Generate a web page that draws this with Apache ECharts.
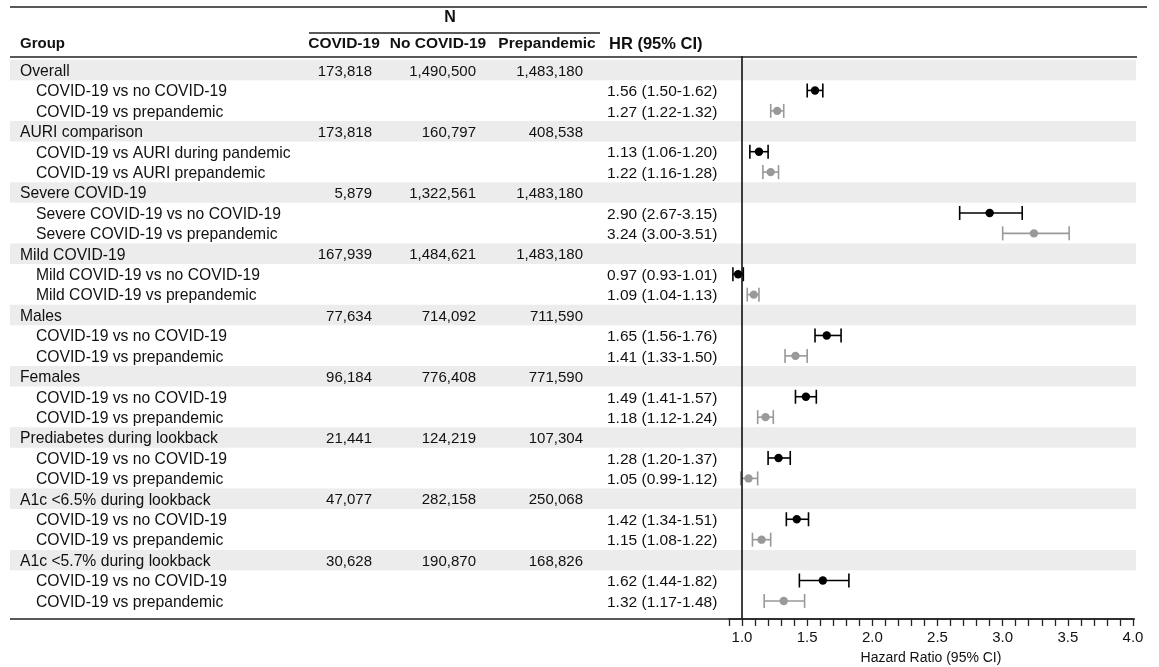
<!DOCTYPE html>
<html>
<head>
<meta charset="utf-8">
<script src="https://cdn.jsdelivr.net/npm/echarts@6/dist/echarts.min.js"></script>
<style>
  html, body { margin: 0; padding: 0; background: #fff; }
  #chart { width: 1159px; height: 667px; }
</style>
</head>
<body>
<div id="chart"></div>
<script>
// groups and N counts
const groups = ['Overall', 'AURI comparison', 'Severe COVID-19', 'Mild COVID-19', 'Males', 'Females',
  'Prediabetes during lookback', 'A1c <6.5% during lookback', 'A1c <5.7% during lookback'];
const nCovid = [173818, 173818, 5879, 167939, 77634, 96184, 21441, 47077, 30628];
const nNoCovid = [1490500, 160797, 1322561, 1484621, 714092, 776408, 124219, 282158, 190870];
const nPrepandemic = [1483180, 408538, 1483180, 1483180, 711590, 771590, 107304, 250068, 168826];

// comparison labels
const labelVsNoCovid = ['COVID-19 vs no COVID-19', 'COVID-19 vs AURI during pandemic', 'Severe COVID-19 vs no COVID-19',
  'Mild COVID-19 vs no COVID-19', 'COVID-19 vs no COVID-19', 'COVID-19 vs no COVID-19', 'COVID-19 vs no COVID-19',
  'COVID-19 vs no COVID-19', 'COVID-19 vs no COVID-19'];
const labelVsPre = ['COVID-19 vs prepandemic', 'COVID-19 vs AURI prepandemic', 'Severe COVID-19 vs prepandemic',
  'Mild COVID-19 vs prepandemic', 'COVID-19 vs prepandemic', 'COVID-19 vs prepandemic', 'COVID-19 vs prepandemic',
  'COVID-19 vs prepandemic', 'COVID-19 vs prepandemic'];

// hazard ratios
const hrNoCovid = [1.56, 1.13, 2.90, 0.97, 1.65, 1.49, 1.28, 1.42, 1.62];
const loNoCovid = [1.50, 1.06, 2.67, 0.93, 1.56, 1.41, 1.20, 1.34, 1.44];
const hiNoCovid = [1.62, 1.20, 3.15, 1.01, 1.76, 1.57, 1.37, 1.51, 1.82];
const hrPre = [1.27, 1.22, 3.24, 1.09, 1.41, 1.18, 1.05, 1.15, 1.32];
const loPre = [1.22, 1.16, 3.00, 1.04, 1.33, 1.12, 0.99, 1.08, 1.17];
const hiPre = [1.32, 1.28, 3.51, 1.13, 1.50, 1.24, 1.12, 1.22, 1.48];

const FONT = 'Arial, "Liberation Sans", Helvetica, sans-serif';
const TXT = '#111';
const fmtN = v => v.toLocaleString('en-US');
const fmtHR = (h, l, u) => h.toFixed(2) + ' (' + l.toFixed(2) + '-' + u.toFixed(2) + ')';

// table rows
const rows = [];
const points = [];
groups.forEach((g, i) => {
  rows.push({ y: 3 * i, kind: 'group', label: g, n: [nCovid[i], nNoCovid[i], nPrepandemic[i]] });
  rows.push({ y: 3 * i + 1, kind: 'sub', label: labelVsNoCovid[i], hr: fmtHR(hrNoCovid[i], loNoCovid[i], hiNoCovid[i]) });
  rows.push({ y: 3 * i + 2, kind: 'sub', label: labelVsPre[i], hr: fmtHR(hrPre[i], loPre[i], hiPre[i]) });
  points.push([hrNoCovid[i], 3 * i + 1, loNoCovid[i], hiNoCovid[i], 0]);
  points.push([hrPre[i], 3 * i + 2, loPre[i], hiPre[i], 1]);
});

const yAxisCfg = { type: 'value', inverse: true, min: -0.686, max: 26.885, show: false };

const chart = echarts.init(document.getElementById('chart'));

const textStyle = (text, x, y, align, bold, size) => ({
  text: text, x: x, y: y, align: align, verticalAlign: 'middle',
  fill: TXT, font: (bold ? 'bold ' : '') + (size || 15) + 'px ' + FONT
});

function renderRow(params, api) {
  const r = rows[params.dataIndex];
  const yc = api.coord([0, r.y])[1] + 1.5;
  const top = api.coord([0, r.y - 0.5])[1];
  const bot = api.coord([0, r.y + 0.5])[1];
  const children = [];
  if (r.kind === 'group') {
    const x0 = api.coord([10, 0])[0], x1 = api.coord([1136, 0])[0];
    children.push({ type: 'rect', shape: { x: x0, y: top, width: x1 - x0, height: bot - top },
      style: { fill: '#ececec' }, z2: 0 });
    children.push({ type: 'text', style: textStyle(r.label, api.coord([20, 0])[0], yc, 'left', false, 15.7), z2: 5 });
    [372, 476, 583].forEach((cx, k) => {
      children.push({ type: 'text', style: textStyle(fmtN(r.n[k]), api.coord([cx, 0])[0], yc, 'right', false, 15), z2: 5 });
    });
  } else {
    children.push({ type: 'text', style: textStyle(r.label, api.coord([36, 0])[0], yc, 'left', false, 15.7), z2: 5 });
    children.push({ type: 'text', style: textStyle(r.hr, api.coord([607, 0])[0], yc, 'left', false, 15.5), z2: 5 });
  }
  return { type: 'group', children: children };
}

function renderCI(params, api) {
  const col = api.value(4) === 0 ? '#000' : '#999';
  const p = api.coord([api.value(0), api.value(1)]);
  const lo = api.coord([api.value(2), api.value(1)]);
  const hi = api.coord([api.value(3), api.value(1)]);
  const h = 7;
  const ls = { stroke: col, lineWidth: 1.6 };
  return {
    type: 'group',
    children: [
      { type: 'line', shape: { x1: lo[0], y1: lo[1], x2: hi[0], y2: hi[1] }, style: ls },
      { type: 'line', shape: { x1: lo[0], y1: lo[1] - h, x2: lo[0], y2: lo[1] + h }, style: ls },
      { type: 'line', shape: { x1: hi[0], y1: hi[1] - h, x2: hi[0], y2: hi[1] + h }, style: ls },
      { type: 'circle', shape: { cx: p[0], cy: p[1], r: 4.2 }, style: { fill: col } }
    ]
  };
}

const hLine = (x1, x2, y, w) => ({
  type: 'line', shape: { x1: x1, y1: y, x2: x2, y2: y },
  style: { stroke: '#222', lineWidth: w || 1.5 }, z: 10
});
const hText = (t, x, y, align, size) => ({
  type: 'text', z: 10, style: textStyle(t, x, y, align, true, size || 15.5)
});

const option = {
  animation: false,
  grid: [
    { left: 0, right: 22, top: 56, bottom: 48, outerBoundsMode: 'none', containLabel: false },
    { left: 729, right: 26, top: 56, bottom: 48, outerBoundsMode: 'none', containLabel: false }
  ],
  xAxis: [
    { type: 'value', gridIndex: 0, min: 0, max: 1137, show: false },
    {
      type: 'value', gridIndex: 1, min: 0.9, max: 4.0, interval: 0.1,
      name: 'Hazard Ratio (95% CI)', nameLocation: 'middle', nameGap: 32,
      nameTextStyle: { color: TXT, fontSize: 14, fontFamily: FONT },
      axisLine: { show: true, onZero: false, lineStyle: { color: '#222', width: 1.5 } },
      axisTick: { show: true, inside: false, interval: 0, length: 7, lineStyle: { color: '#222', width: 1.3 } },
      splitLine: { show: false },
      axisLabel: {
        show: true, interval: 0, color: TXT, fontSize: 15, fontFamily: FONT, margin: 11,
        formatter: v => {
          const d = v * 2;
          return (v >= 0.99 && Math.abs(d - Math.round(d)) < 1e-6) ? v.toFixed(1) : '';
        }
      }
    }
  ],
  yAxis: [
    Object.assign({ gridIndex: 0 }, yAxisCfg),
    Object.assign({ gridIndex: 1 }, yAxisCfg)
  ],
  series: [
    {
      type: 'custom', xAxisIndex: 0, yAxisIndex: 0, z: 1,
      data: rows.map(r => [0, r.y]),
      renderItem: renderRow
    },
    {
      type: 'custom', xAxisIndex: 1, yAxisIndex: 1, z: 3,
      encode: { x: [0, 2, 3], y: 1 },
      data: points,
      renderItem: renderCI,
      markLine: {
        silent: true, symbol: 'none', label: { show: false },
        lineStyle: { color: '#000', width: 1.5, type: 'solid' },
        data: [{ xAxis: 1 }]
      }
    }
  ],
  graphic: [
    hLine(10, 1147, 7, 1.6),
    hLine(309, 600, 33, 1.6),
    hLine(10, 1137, 57, 1.6),
    hLine(10, 1135, 619, 1.6),
    hText('N', 450, 18, 'center', 16),
    hText('Group', 20, 44, 'left', 15),
    hText('COVID-19', 344, 44, 'center'),
    hText('No COVID-19', 438, 44, 'center'),
    hText('Prepandemic', 547, 44, 'center'),
    hText('HR (95% CI)', 609, 44, 'left', 16.5)
  ]
};

chart.setOption(option);
</script>
</body>
</html>
